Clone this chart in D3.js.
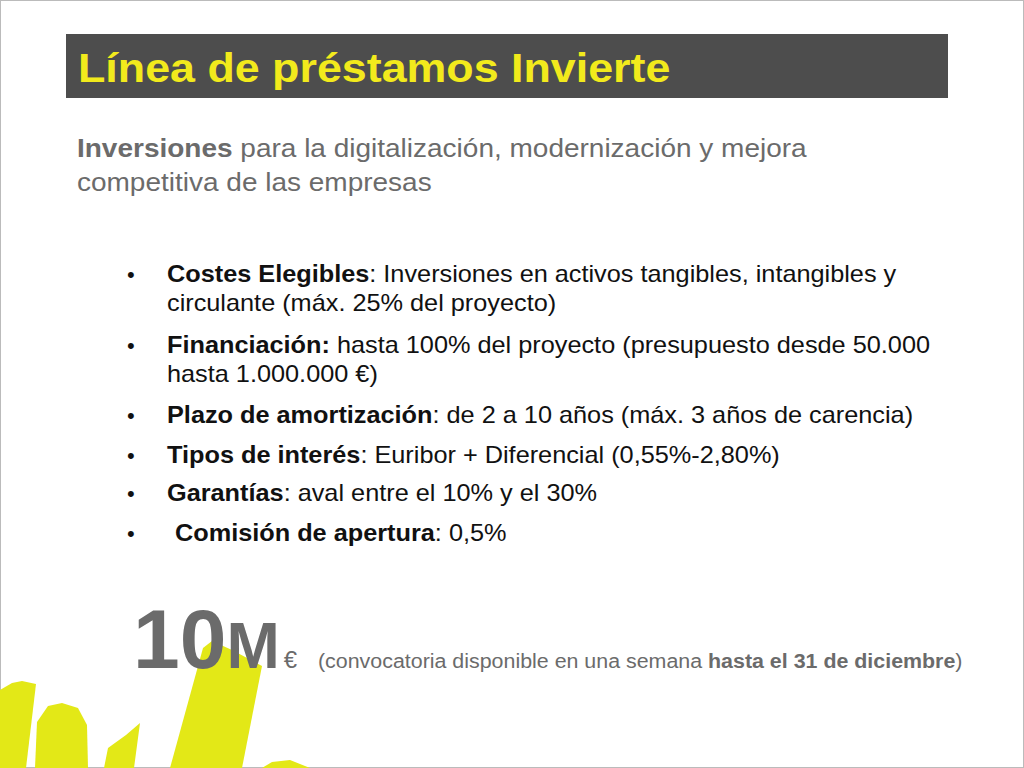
<!DOCTYPE html>
<html><head><meta charset="utf-8">
<script src="https://cdn.jsdelivr.net/npm/d3@7.9.0/dist/d3.min.js"></script>
<style>body{margin:0;background:#fff}svg{display:block;font-family:"Liberation Sans",Arial,sans-serif}</style>
</head><body>
<svg width="1024" height="768"></svg>
<script>
const title = "Línea de préstamos Invierte";
const subtitle = [[["Inversiones", true], [" para la digitalización, modernización y mejora", false]],
                  [["competitiva de las empresas", false]]];
const bullets = [
  [[["Costes Elegibles", true], [": Inversiones en activos tangibles, intangibles y", false]],
   [["circulante (máx. 25% del proyecto)", false]]],
  [[["Financiación:", true], [" hasta 100% del proyecto (presupuesto desde 50.000", false]],
   [["hasta 1.000.000 €)", false]]],
  [[["Plazo de amortización", true], [": de 2 a 10 años (máx. 3 años de carencia)", false]]],
  [[["Tipos de interés", true], [": Euribor + Diferencial (0,55%-2,80%)", false]]],
  [[["Garantías", true], [": aval entre el 10% y el 30%", false]]],
  [[["Comisión de apertura", true], [": 0,5%", false]]]
];
const bulletY = [282, 353, 423, 463, 501, 541];
const bulletIndent = [0, 0, 0, 0, 0, 8];
const brush = [
  [[0,690],[12,683],[22,681],[36,684],[26,768],[0,768]],
  [[35,768],[37,722],[48,706],[62,703],[78,708],[87,725],[88,768]],
  [[108,748],[126,735],[140,723],[134,768],[104,768]],
  [[203,648],[212,641],[232,650],[262,666],[242,768],[170,768]],
  [[262,768],[272,762],[290,760],[310,768]]
];

const svg = d3.select("svg");
svg.append("rect").attr("x",0.5).attr("y",0.5).attr("width",1023).attr("height",767)
  .attr("fill","none").attr("stroke","#bbb");

svg.selectAll("path.brush").data(brush).join("path").attr("class","brush")
  .attr("d", d => d3.line().curve(d3.curveLinearClosed)(d)).attr("fill","#e3e817");

// text widths in the slide are a bit wider than Liberation Sans, so stretch horizontally
function txt(x, y, sx){
  return svg.append("text").attr("transform", `translate(${x},${y}) scale(${sx},1)`);
}
function runs(sel, parts){
  parts.forEach(([t,b]) => sel.append("tspan").attr("font-weight", b ? "bold" : "normal").text(t));
}

svg.append("rect").attr("x",66).attr("y",34).attr("width",882).attr("height",64).attr("fill","#4d4d4d");
txt(78, 82, 1.12).attr("font-size",40).attr("font-weight","bold").attr("fill","#f2ea1c").text(title);

subtitle.forEach((line,i) => {
  const t = txt(77, 157+i*34, 1.12).attr("font-size",25).attr("fill","#6b6b6b");
  runs(t, line);
});

bullets.forEach((b,i) => {
  svg.append("text").attr("x",127).attr("y",bulletY[i]).attr("font-size",22).attr("fill","#111").text("•");
  b.forEach((line,j) => {
    const t = txt(167 + bulletIndent[i], bulletY[i]+j*29, 1.1).attr("font-size",23).attr("fill","#111");
    runs(t, line);
  });
});

const big = svg.append("text").attr("x",133).attr("y",668).attr("fill","#6b6b6b").attr("font-weight","bold");
big.append("tspan").attr("font-size",84).text("10");
big.append("tspan").attr("font-size",64).text("M");
big.append("tspan").attr("font-size",24).attr("font-weight","normal").attr("dx",4).text("€");
const note = txt(318, 668, 1.07).attr("font-size",20).attr("fill","#6b6b6b");
runs(note, [["(convocatoria disponible en una semana ", false],["hasta el 31 de diciembre", true],[")", false]]);
</script>
</body></html>
